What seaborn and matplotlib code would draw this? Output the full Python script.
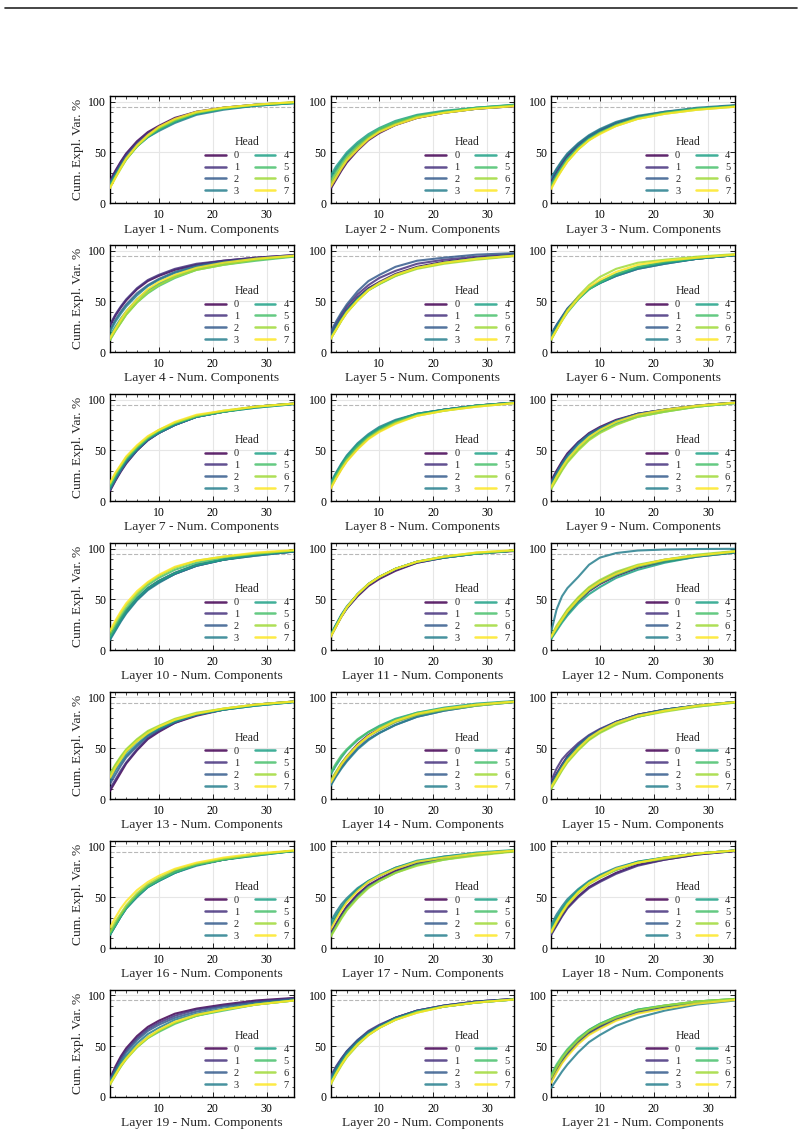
import numpy as np
import pandas as pd
import matplotlib
matplotlib.use("Agg")
import matplotlib.pyplot as plt
import seaborn as sns
from matplotlib.ticker import MultipleLocator, AutoMinorLocator
from matplotlib.lines import Line2D

# ---------------- data ----------------
COMPONENTS = [1, 2, 3, 4, 6, 8, 10, 13, 17, 22, 28, 35]
HEADS = ["0", "1", "2", "3", "4", "5", "6", "7"]
THRESHOLD = 95

layer01 = [
    [22, 32, 41, 49, 61, 70, 76, 84, 90, 94, 97, 99],
    [21, 31, 40, 48, 60, 69, 75, 83, 90, 94, 97, 99],
    [20, 29, 38, 46, 58, 67, 73, 81, 88, 93, 96, 98.5],
    [19, 28, 36, 44, 56, 65, 71, 79, 87, 92, 96, 98.5],
    [18, 27, 36, 44, 56, 65, 72, 80, 88, 93, 96, 98.5],
    [16, 26, 35, 43, 56, 66, 73, 81, 89, 93, 97, 99],
    [15, 25, 34, 43, 56, 66, 74, 82, 89, 94, 97, 99.5],
    [15, 25, 35, 44, 57, 67, 75, 83, 90, 94, 97, 99.5],
]
layer02 = [
    [14, 23, 32, 40, 52, 62, 69, 77, 84, 89, 93, 95.5],
    [15, 24, 33, 41, 53, 63, 70, 77, 84, 89, 93, 95.5],
    [18, 27, 35, 43, 55, 64, 71, 78, 85, 90, 93, 96],
    [25, 33, 41, 48, 58, 66, 72, 79, 86, 90, 94, 96.5],
    [27, 36, 43, 50, 60, 68, 74, 81, 87, 91, 94, 97],
    [22, 31, 39, 46, 57, 66, 73, 80, 86, 90, 94, 96.5],
    [19, 28, 36, 44, 55, 64, 71, 78, 85, 89, 93, 96],
    [16, 25, 34, 42, 53, 63, 70, 77, 84, 89, 93, 95.5],
]
layer03 = [
    [22, 32, 40, 47, 58, 66, 72, 79, 85, 89, 93, 96],
    [20, 30, 38, 46, 57, 65, 71, 78, 85, 89, 93, 96],
    [24, 33, 41, 48, 58, 66, 72, 79, 85, 90, 93, 96],
    [25, 34, 42, 49, 59, 67, 73, 80, 86, 90, 94, 96.5],
    [19, 28, 36, 44, 55, 64, 70, 77, 84, 89, 93, 95.5],
    [17, 26, 35, 43, 54, 63, 69, 77, 84, 89, 93, 95.5],
    [15, 25, 33, 41, 53, 62, 69, 76, 83, 88, 92, 95],
    [14, 24, 33, 41, 53, 62, 68, 76, 83, 88, 92, 95],
]
layer04 = [
    [26, 36, 44, 51, 62, 70, 75, 81, 86, 90, 93, 95.5],
    [27, 37, 45, 52, 63, 71, 76, 82, 87, 90, 93, 95.5],
    [22, 32, 40, 47, 58, 66, 72, 79, 85, 89, 92, 95],
    [20, 30, 38, 45, 56, 65, 71, 78, 84, 88, 92, 95],
    [16, 25, 33, 40, 52, 61, 67, 75, 82, 87, 91, 94.5],
    [12, 21, 29, 37, 49, 58, 65, 73, 81, 86, 90, 94],
    [12, 21, 29, 37, 49, 59, 66, 74, 81, 86, 91, 94.5],
    [14, 23, 32, 40, 52, 62, 69, 76, 83, 88, 92, 95],
]
layer05 = [
    [16, 25, 34, 42, 54, 63, 69, 77, 84, 89, 93, 95.5],
    [18, 28, 37, 45, 57, 66, 73, 80, 87, 91, 94, 96.5],
    [20, 30, 39, 47, 60, 70, 76, 84, 90, 93, 96, 97.5],
    [15, 25, 33, 41, 53, 62, 68, 76, 83, 88, 92, 95],
    [14, 23, 32, 40, 52, 61, 68, 76, 83, 88, 92, 95],
    [13, 22, 31, 39, 51, 61, 67, 75, 83, 88, 92, 95],
    [13, 22, 31, 39, 51, 61, 67, 75, 82, 87, 91, 94.5],
    [13, 22, 31, 39, 51, 61, 68, 76, 83, 88, 92, 95],
]
layer06 = [
    [16, 26, 34, 42, 54, 63, 69, 76, 83, 88, 92, 95.5],
    [17, 26, 34, 42, 54, 63, 69, 76, 83, 88, 92, 95.5],
    [18, 27, 35, 43, 54, 63, 68, 75, 82, 87, 92, 95.5],
    [17, 26, 34, 42, 53, 62, 68, 75, 82, 87, 92, 95.5],
    [14, 23, 32, 40, 52, 62, 68, 76, 83, 88, 92, 95.5],
    [13, 22, 31, 39, 52, 62, 69, 77, 84, 89, 93, 96],
    [12, 22, 32, 41, 55, 66, 74, 82, 88, 91, 94, 96.5],
    [13, 22, 31, 40, 53, 64, 71, 79, 86, 90, 93, 96],
]
layer07 = [
    [10, 20, 29, 37, 50, 60, 67, 75, 83, 88, 93, 96],
    [11, 21, 30, 38, 50, 60, 67, 75, 83, 88, 93, 96],
    [11, 21, 30, 38, 50, 60, 67, 75, 83, 88, 93, 96],
    [12, 22, 31, 39, 51, 61, 67, 75, 83, 88, 92, 95.5],
    [14, 24, 33, 41, 52, 62, 68, 76, 83, 88, 92, 95.5],
    [15, 25, 34, 42, 53, 62, 69, 77, 84, 88, 93, 96],
    [17, 27, 35, 43, 54, 63, 70, 77, 84, 89, 93, 96],
    [18, 28, 36, 44, 55, 64, 70, 78, 85, 89, 93, 96],
]
layer08 = [
    [13, 23, 32, 40, 52, 62, 69, 77, 85, 90, 94, 97],
    [14, 24, 33, 41, 53, 63, 70, 78, 85, 90, 94, 97],
    [16, 26, 35, 43, 55, 64, 71, 79, 86, 90, 94, 97],
    [18, 28, 37, 45, 57, 66, 73, 80, 86, 90, 94, 97],
    [17, 27, 36, 44, 56, 65, 72, 79, 86, 90, 94, 97],
    [15, 25, 34, 42, 54, 63, 70, 78, 85, 89, 94, 96.5],
    [13, 23, 32, 40, 52, 62, 69, 77, 84, 89, 93, 96.5],
    [12, 22, 31, 39, 51, 61, 68, 76, 84, 89, 93, 96.5],
]
layer09 = [
    [20, 30, 39, 47, 58, 67, 73, 80, 86, 90, 94, 97],
    [19, 29, 38, 46, 58, 66, 72, 79, 86, 90, 94, 97],
    [18, 28, 37, 45, 57, 66, 72, 79, 86, 90, 94, 97],
    [17, 27, 36, 44, 56, 65, 71, 79, 85, 90, 94, 97],
    [15, 24, 33, 41, 53, 63, 69, 77, 84, 89, 93, 96.5],
    [13, 22, 31, 39, 51, 61, 68, 76, 83, 88, 93, 96.5],
    [12, 21, 30, 38, 50, 60, 67, 75, 83, 88, 93, 96.5],
    [14, 24, 33, 41, 53, 63, 70, 78, 85, 90, 94, 97],
]
layer10 = [
    [13, 22, 31, 39, 51, 61, 68, 76, 84, 89, 94, 97],
    [12, 21, 30, 38, 50, 60, 67, 75, 83, 89, 94, 97],
    [11, 20, 29, 37, 50, 60, 67, 75, 83, 89, 93, 97],
    [10, 19, 28, 36, 49, 59, 66, 75, 83, 89, 93, 97],
    [12, 21, 30, 38, 51, 61, 68, 76, 84, 89, 94, 97.5],
    [14, 24, 33, 41, 54, 64, 71, 79, 86, 91, 95, 98],
    [17, 27, 36, 44, 56, 66, 73, 81, 88, 92, 95, 98],
    [19, 29, 38, 46, 58, 67, 74, 82, 88, 92, 96, 98.5],
]
layer11 = [
    [13, 23, 33, 41, 53, 63, 70, 78, 86, 91, 95, 97.5],
    [14, 24, 33, 41, 54, 64, 71, 79, 86, 91, 95, 98],
    [14, 24, 34, 42, 55, 65, 72, 80, 87, 91, 95, 98],
    [15, 25, 35, 43, 55, 65, 72, 80, 87, 92, 95, 98],
    [15, 25, 34, 42, 55, 65, 72, 80, 87, 91, 95, 98],
    [14, 24, 34, 42, 55, 65, 72, 80, 87, 92, 95, 98],
    [13, 23, 33, 42, 55, 65, 72, 80, 87, 92, 96, 98],
    [13, 23, 33, 42, 55, 65, 72, 80, 87, 92, 96, 98.5],
]
layer12 = [
    [12, 21, 29, 36, 48, 58, 65, 73, 81, 87, 92, 96],
    [12, 21, 29, 37, 49, 59, 66, 74, 82, 88, 93, 96.5],
    [13, 22, 31, 39, 51, 61, 68, 76, 83, 89, 93, 97],
    [18, 40, 53, 61, 72, 84, 91, 95.5, 98, 99, 99.5, 99.7],
    [11, 19, 27, 34, 46, 55, 62, 71, 79, 86, 92, 96],
    [12, 21, 29, 37, 49, 59, 66, 74, 82, 88, 93, 97],
    [14, 24, 32, 40, 52, 62, 69, 77, 84, 89, 94, 97.5],
    [13, 22, 30, 38, 50, 60, 67, 75, 83, 89, 93, 97],
]
layer13 = [
    [8, 17, 26, 35, 48, 59, 66, 75, 82, 88, 93, 96],
    [10, 19, 28, 36, 49, 60, 67, 75, 83, 88, 93, 96],
    [15, 24, 33, 41, 52, 62, 68, 76, 83, 88, 92, 95.5],
    [18, 28, 36, 43, 54, 63, 69, 76, 83, 88, 92, 95.5],
    [22, 31, 39, 46, 57, 65, 70, 77, 84, 88, 92, 95.5],
    [24, 33, 41, 48, 58, 66, 71, 78, 84, 89, 93, 96],
    [25, 34, 42, 49, 59, 67, 72, 79, 85, 89, 93, 96],
    [21, 31, 39, 47, 57, 65, 71, 78, 84, 89, 93, 96],
]
layer14 = [
    [17, 26, 35, 42, 54, 63, 69, 77, 84, 89, 93, 96],
    [15, 24, 33, 41, 53, 62, 68, 76, 83, 88, 93, 96],
    [14, 23, 31, 38, 50, 59, 65, 73, 81, 87, 92, 95.5],
    [13, 22, 30, 37, 49, 58, 65, 73, 81, 87, 92, 95.5],
    [24, 33, 41, 48, 58, 66, 72, 79, 85, 90, 94, 96.5],
    [26, 35, 43, 49, 59, 66, 71, 78, 85, 89, 93, 96],
    [18, 27, 35, 42, 53, 62, 68, 76, 83, 88, 92, 95.5],
    [16, 25, 34, 41, 53, 62, 69, 77, 84, 89, 93, 96],
]
layer15 = [
    [15, 25, 34, 42, 53, 62, 68, 76, 83, 88, 92, 95.5],
    [18, 30, 39, 45, 55, 63, 69, 76, 83, 88, 92, 95.5],
    [14, 24, 33, 41, 53, 62, 68, 76, 83, 88, 92, 95.5],
    [14, 23, 32, 40, 52, 61, 67, 75, 82, 88, 92, 95.5],
    [12, 21, 30, 38, 50, 59, 66, 74, 81, 87, 92, 95.5],
    [11, 20, 29, 37, 49, 59, 66, 74, 81, 87, 91, 95],
    [10, 19, 28, 36, 48, 58, 65, 73, 81, 86, 91, 95],
    [12, 21, 30, 38, 50, 60, 67, 75, 82, 87, 92, 95.5],
]
layer16 = [
    [14, 23, 32, 40, 52, 61, 67, 75, 82, 87, 92, 95.5],
    [14, 23, 32, 40, 52, 61, 67, 75, 82, 87, 92, 95.5],
    [13, 22, 31, 39, 51, 60, 66, 74, 82, 87, 92, 95.5],
    [13, 22, 31, 39, 50, 60, 66, 74, 81, 87, 91, 95.5],
    [13, 22, 31, 39, 51, 60, 66, 74, 82, 87, 91, 95.5],
    [14, 23, 32, 40, 52, 61, 67, 75, 82, 87, 92, 95.5],
    [16, 26, 34, 42, 54, 63, 69, 77, 83, 88, 92, 96],
    [20, 30, 39, 46, 57, 65, 71, 78, 84, 89, 93, 96],
]
layer17 = [
    [14, 24, 33, 41, 53, 62, 68, 76, 83, 88, 92, 95.5],
    [14, 23, 32, 40, 52, 61, 67, 75, 83, 88, 92, 95.5],
    [20, 30, 39, 46, 57, 65, 71, 79, 85, 90, 93, 96],
    [26, 35, 43, 49, 59, 66, 71, 78, 85, 89, 93, 96],
    [22, 32, 40, 47, 58, 66, 72, 79, 86, 90, 94, 96.5],
    [12, 21, 30, 38, 50, 60, 66, 74, 82, 87, 92, 95.5],
    [11, 20, 29, 37, 49, 59, 66, 74, 81, 87, 91, 95],
    [18, 28, 37, 45, 56, 65, 71, 78, 85, 89, 93, 96],
]
layer18 = [
    [14, 23, 32, 40, 51, 60, 66, 74, 82, 87, 92, 95.5],
    [13, 22, 31, 39, 50, 59, 65, 73, 81, 87, 92, 95.5],
    [19, 29, 38, 45, 56, 64, 70, 77, 84, 89, 93, 96],
    [23, 33, 41, 48, 58, 66, 72, 79, 85, 89, 93, 96],
    [20, 30, 38, 46, 57, 65, 71, 78, 85, 89, 93, 96],
    [17, 27, 36, 44, 55, 64, 70, 77, 84, 89, 93, 96],
    [15, 25, 34, 42, 54, 63, 69, 77, 84, 88, 93, 96],
    [16, 26, 35, 43, 55, 64, 70, 78, 84, 89, 93, 96],
]
layer19 = [
    [18, 30, 40, 48, 60, 69, 75, 82, 87, 91, 95, 97.5],
    [17, 28, 38, 46, 58, 67, 73, 80, 86, 90, 94, 97],
    [16, 27, 36, 44, 56, 65, 71, 78, 84, 89, 93, 96.5],
    [15, 25, 34, 41, 53, 62, 68, 76, 82, 87, 92, 95.5],
    [14, 23, 32, 39, 50, 59, 65, 73, 80, 86, 91, 95],
    [13, 22, 30, 38, 49, 58, 64, 72, 80, 85, 91, 95],
    [12, 21, 30, 37, 49, 58, 65, 73, 80, 86, 91, 95],
    [13, 22, 31, 38, 50, 59, 66, 74, 81, 86, 91, 95],
]
layer20 = [
    [18, 28, 37, 44, 55, 64, 70, 78, 85, 90, 94, 96.5],
    [20, 30, 38, 45, 56, 65, 71, 78, 85, 90, 94, 96.5],
    [19, 29, 37, 45, 56, 64, 70, 78, 85, 90, 94, 96.5],
    [17, 27, 35, 43, 54, 63, 69, 77, 84, 89, 93, 96],
    [15, 25, 34, 42, 53, 62, 69, 77, 84, 89, 93, 96],
    [13, 23, 32, 40, 52, 61, 68, 76, 84, 89, 93, 96],
    [12, 22, 31, 39, 51, 61, 68, 76, 83, 89, 93, 96],
    [13, 23, 32, 40, 52, 61, 68, 76, 83, 89, 93, 96],
]
layer21 = [
    [18, 28, 37, 44, 55, 64, 70, 77, 84, 89, 93, 96],
    [16, 26, 35, 42, 54, 63, 69, 77, 84, 89, 93, 96],
    [15, 25, 34, 42, 53, 62, 68, 76, 83, 88, 93, 96],
    [9, 17, 25, 32, 44, 54, 61, 70, 78, 85, 91, 95],
    [20, 30, 38, 46, 57, 66, 72, 79, 86, 90, 94, 96.5],
    [22, 32, 40, 47, 58, 66, 72, 79, 86, 90, 94, 96.5],
    [19, 29, 38, 45, 56, 65, 71, 78, 85, 90, 94, 96.5],
    [14, 24, 33, 40, 52, 61, 67, 75, 82, 87, 92, 95.5],
]

LAYERS = [layer01, layer02, layer03, layer04, layer05, layer06, layer07,
          layer08, layer09, layer10, layer11, layer12, layer13, layer14,
          layer15, layer16, layer17, layer18, layer19, layer20, layer21]

# ---------------- style ----------------
sns.set_theme(style="ticks")
plt.rcParams["font.family"] = ["Liberation Serif", "DejaVu Serif"]
plt.rcParams.update({
    "xtick.direction": "in", "ytick.direction": "in",
    "xtick.top": True, "ytick.right": True,
    "xtick.major.size": 3.5, "ytick.major.size": 3.5,
    "xtick.minor.size": 1.8, "ytick.minor.size": 1.8,
    "xtick.major.width": 0.6, "ytick.major.width": 0.6,
    "xtick.minor.width": 0.5, "ytick.minor.width": 0.5,
    "axes.edgecolor": "black", "axes.linewidth": 1.0,
    "xtick.labelsize": 8.5, "ytick.labelsize": 8.5,
    "xtick.color": "black", "ytick.color": "black",
})

cmap = matplotlib.colormaps["viridis"]
palette = [cmap(v) for v in np.linspace(0, 1, len(HEADS))]

fig, axes = plt.subplots(7, 3, figsize=(8.04, 11.35), dpi=100)
fig.subplots_adjust(left=0.1368, right=0.9142, top=0.9154, bottom=0.0335,
                    wspace=0.2, hspace=0.39)

for idx, (ax, layer) in enumerate(zip(axes.flat, LAYERS)):
    df = pd.DataFrame({
        "comp": COMPONENTS * len(HEADS),
        "var": [v for curve in layer for v in curve],
        "head": [h for h in HEADS for _ in COMPONENTS],
    })
    ax.grid(True, color="0.9", lw=0.8, zorder=0)
    ax.axhline(THRESHOLD, color="0.72", ls="--", lw=0.8, zorder=1)
    sns.lineplot(data=df, x="comp", y="var", hue="head", hue_order=HEADS,
                 palette=palette, ax=ax, lw=1.5, alpha=0.85, zorder=3)
    ax.set_xlim(1, 35)
    ax.set_ylim(0, 105.5)
    ax.xaxis.set_major_locator(MultipleLocator(10))
    ax.yaxis.set_major_locator(MultipleLocator(50))
    ax.xaxis.set_minor_locator(AutoMinorLocator(5))
    ax.yaxis.set_minor_locator(AutoMinorLocator(5))
    ax.tick_params(which="both", direction="in", top=True, right=True)
    ax.tick_params(axis="x", pad=4)
    ax.tick_params(axis="y", pad=3)
    ax.set_xlabel(f"Layer {idx + 1} - Num. Components", fontsize=9.7, labelpad=2)
    if idx % 3 == 0:
        ax.set_ylabel("Cum. Expl. Var. %", fontsize=9.7, labelpad=3)
    else:
        ax.set_ylabel("")
    handles, labels = ax.get_legend_handles_labels()
    leg = ax.legend(handles, labels, title="Head", ncol=2, loc="lower right",
                    bbox_to_anchor=(1.025, -0.02),
                    frameon=False, fontsize=7.5, title_fontsize=8.5,
                    handlelength=2.0, columnspacing=1.5, labelspacing=0.25,
                    handletextpad=0.8, borderaxespad=0.5)
    for lh in leg.get_lines():
        lh.set_linewidth(1.8)
    for sp in ax.spines.values():
        sp.set_visible(True)
        sp.set_color("black")

fig.add_artist(Line2D([5 / 804, 797 / 804], [1 - 7.5 / 1135] * 2,
                      transform=fig.transFigure, color="0.15", lw=1.2))

fig.savefig("out.png", dpi=100)
